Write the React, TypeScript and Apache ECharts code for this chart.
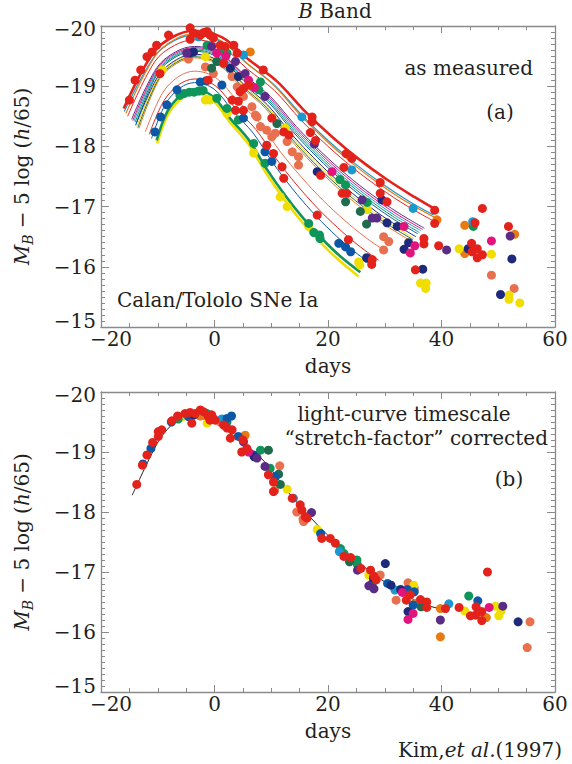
import React, { useEffect, useRef } from "react";
import * as echarts from "echarts";

// ---------- axes ----------
const X_RANGE = [-20, 60];
const Y_RANGE = [-20, -15];

// ---------- panel (a): fitted light curves [day, mag] ----------
const fitRedThick = [[-16, -18.63], [-10.76, -19.56], [-7.13, -19.83], [-3.5, -19.92], [1.34, -19.81], [6.18, -19.43], [11.02, -19.08], [15.86, -18.59], [20.7, -18.16], [25.54, -17.78], [30.38, -17.45], [35.22, -17.16], [39, -16.95]];
const fitOrange = [[-15.6, -18.55], [-10.4, -19.51], [-6.95, -19.78], [-3.5, -19.87], [1.1, -19.76], [5.7, -19.38], [10.3, -19.03], [14.9, -18.54], [19.5, -18.11], [24.1, -17.73], [28.7, -17.4], [33.3, -17.11], [39.2, -16.8]];
const fitTeal = [[-15.9, -18.58], [-10.58, -19.49], [-7.04, -19.76], [-3.5, -19.85], [1.22, -19.74], [5.94, -19.36], [10.66, -19.01], [15.38, -18.52], [20.1, -18.09], [24.82, -17.71], [29.54, -17.38], [34.26, -17.09], [38.6, -16.86]];
const fitRedThin = [[-15.3, -18.5], [-10.52, -19.41], [-7.01, -19.68], [-3.5, -19.77], [1.18, -19.66], [5.86, -19.28], [10.54, -18.93], [15.22, -18.44], [19.9, -18.01], [24.58, -17.63], [29.26, -17.3], [33.94, -17.01], [38.8, -16.75]];
const fitPurple = [[-14.6, -18.45], [-10.22, -19.3], [-6.86, -19.57], [-3.5, -19.66], [0.98, -19.55], [5.46, -19.17], [9.94, -18.82], [14.42, -18.33], [18.9, -17.9], [23.38, -17.52], [27.86, -17.19], [32.34, -16.9], [37.0, -16.64]];
const fitMagenta = [[-14.4, -18.43], [-10.16, -19.28], [-6.83, -19.55], [-3.5, -19.64], [0.94, -19.53], [5.38, -19.15], [9.82, -18.8], [14.26, -18.31], [18.7, -17.88], [23.14, -17.5], [27.58, -17.17], [32.02, -16.88], [36.7, -16.62]];
const fitTeal2 = [[-14.2, -18.42], [-10.1, -19.26], [-6.8, -19.53], [-3.5, -19.62], [0.9, -19.51], [5.3, -19.13], [9.7, -18.78], [14.1, -18.29], [18.5, -17.86], [22.9, -17.48], [27.3, -17.15], [31.7, -16.86], [36.4, -16.6]];
const fitGreen = [[-14.0, -18.4], [-10.04, -19.24], [-6.77, -19.51], [-3.5, -19.6], [0.86, -19.49], [5.22, -19.11], [9.58, -18.76], [13.94, -18.27], [18.3, -17.84], [22.66, -17.46], [27.02, -17.13], [31.38, -16.84], [36.1, -16.57]];
const fitBlue = [[-13.8, -18.38], [-9.98, -19.22], [-6.74, -19.49], [-3.5, -19.58], [0.82, -19.47], [5.14, -19.09], [9.46, -18.74], [13.78, -18.25], [18.1, -17.82], [22.42, -17.44], [26.74, -17.11], [31.06, -16.82], [35.8, -16.55]];
const fitNavy = [[-13.9, -18.35], [-9.92, -19.17], [-6.71, -19.44], [-3.5, -19.53], [0.78, -19.42], [5.06, -19.04], [9.34, -18.69], [13.62, -18.2], [17.9, -17.77], [22.18, -17.39], [26.46, -17.06], [30.74, -16.77], [35.5, -16.5]];
const fitYellow = [[-13.7, -18.33], [-9.86, -19.15], [-6.68, -19.42], [-3.5, -19.51], [0.74, -19.4], [4.98, -19.02], [9.22, -18.67], [13.46, -18.18], [17.7, -17.75], [21.94, -17.37], [26.18, -17.04], [30.42, -16.75], [35.2, -16.47]];
const fitDkGreen = [[-13.5, -18.31], [-9.8, -19.13], [-6.65, -19.4], [-3.5, -19.49], [0.7, -19.38], [4.9, -19.0], [9.1, -18.65], [13.3, -18.16], [17.5, -17.73], [21.7, -17.35], [25.9, -17.02], [30.1, -16.73], [35.0, -16.45]];
const fitOrange2 = [[-13.3, -18.3], [-9.74, -19.11], [-6.62, -19.38], [-3.5, -19.47], [0.66, -19.36], [4.82, -18.98], [8.98, -18.63], [13.14, -18.14], [17.3, -17.71], [21.46, -17.33], [25.62, -17.0], [29.78, -16.71], [34.8, -16.42]];
const fitSalmon = [[-12.2, -18.24], [-9.14, -18.89], [-6.32, -19.16], [-3.5, -19.25], [0.26, -19.14], [4.02, -18.76], [7.78, -18.41], [11.54, -17.92], [15.3, -17.49], [19.06, -17.11], [22.82, -16.78], [26.58, -16.49], [29.8, -16.28]];
const fitRedLow = [[-11.5, -18.2], [-8.9, -18.76], [-6.2, -19.03], [-3.5, -19.12], [0.1, -19.01], [3.7, -18.63], [7.3, -18.28], [10.9, -17.79], [14.5, -17.36], [18.1, -16.98], [21.7, -16.65], [25.3, -16.36], [28.9, -16.11]];
const fitBlueLow = [[-11.1, -18.13], [-8.66, -18.7], [-6.08, -18.97], [-3.5, -19.06], [-0.06, -18.95], [3.38, -18.57], [6.82, -18.22], [10.26, -17.73], [13.7, -17.3], [17.14, -16.92], [20.58, -16.59], [24.02, -16.3], [27.8, -16.03]];
const fitGreenThick = [[-10.2, -18.1], [-8.3, -18.58], [-5.9, -18.85], [-3.5, -18.94], [-0.3, -18.83], [2.9, -18.45], [6.1, -18.1], [9.3, -17.61], [12.5, -17.18], [15.7, -16.8], [18.9, -16.47], [22.1, -16.18], [25.7, -15.91]];
const fitYellowThick = [[-10.1, -18.05], [-8.24, -18.52], [-5.87, -18.79], [-3.5, -18.88], [-0.34, -18.77], [2.82, -18.39], [5.98, -18.04], [9.14, -17.55], [12.3, -17.12], [15.46, -16.74], [18.62, -16.41], [21.78, -16.12], [25.4, -15.84]];

// ---------- panel (a): measured points ----------
const aRed = [[-15.0, -18.77], [-14.0, -19.1], [-13.0, -19.27], [-11.9, -19.49], [-11.0, -19.57], [-10.2, -19.68], [-8.1, -19.85], [-4.3, -19.97], [-3.7, -19.88], [-2.5, -19.85], [-1.9, -19.89], [-1.3, -19.91], [-0.8, -19.85], [-4.3, -19.78], [-0.2, -19.8], [1.0, -19.68], [1.9, -19.66], [3.4, -19.68], [4.0, -19.55], [8.6, -19.27], [17.2, -18.49], [17.2, -18.41], [16.9, -18.23], [17.8, -18.1], [23.2, -17.88], [24.2, -17.8], [22.8, -17.65], [29.2, -17.4], [29.2, -17.22], [30.4, -17.08], [38.8, -16.94], [38.8, -16.72], [1.6, -19.38], [6.0, -19.02], [5.1, -18.96], [4.5, -18.91], [10.1, -18.47], [12.2, -18.24], [13.1, -18.19], [18.7, -17.52], [22.5, -17.22], [23.3, -17.22], [36.9, -16.47], [36.9, -16.38], [39.5, -16.35], [-9.6, -19.21], [-1.1, -19.1], [3.1, -18.77], [3.7, -18.6], [4.2, -18.75], [5.1, -18.6], [9.2, -18.02], [10.4, -17.88], [11.9, -17.66], [12.2, -17.47], [18.1, -16.86], [23.6, -16.45], [27.8, -16.12], [27.7, -16.04], [35.4, -15.95], [47.2, -16.97], [45.9, -16.73], [51.8, -16.67], [45.3, -16.39], [45.4, -16.25], [46.3, -16.3], [46.3, -16.15], [47.2, -16.2]];
const aSalmon = [[-4.6, -19.45], [-1.6, -19.32], [-0.2, -19.21], [3.1, -19.16], [4.0, -18.99], [5.1, -18.83], [6.6, -18.66], [7.5, -18.49], [8.1, -18.33], [9.2, -18.27], [10.1, -18.16], [7.2, -18.52], [10.7, -18.22], [12.8, -18.08], [13.7, -17.91], [14.8, -17.83], [14.8, -17.69], [29.8, -16.5], [30.7, -16.42], [29.8, -16.28], [48.8, -15.86], [52.8, -15.64]];
const aOrange = [[-3.7, -19.88], [-2.2, -19.87], [6.3, -19.57], [39.2, -16.78], [44.1, -16.69], [44.1, -16.22], [52.9, -16.54]];
const aYellow = [[-9.2, -19.27], [-1.6, -19.49], [-1.6, -18.77], [-0.8, -18.77], [2.2, -18.55], [4.2, -19.16], [6.9, -17.89], [11.6, -17.16], [12.8, -17.0], [12.5, -18.3], [16.6, -16.67], [25.4, -16.08], [25.6, -16.03], [26.9, -16.95], [36.3, -15.73], [37.3, -15.73], [37.2, -15.64], [43.1, -16.3], [48.8, -16.21], [51.9, -15.53], [51.9, -15.46], [53.8, -15.4]];
const aGreen = [[-1.3, -19.68], [1.3, -19.6], [2.2, -19.55], [8.1, -19.07], [7.8, -18.94], [22.1, -17.45], [23.1, -17.36], [26.9, -17.07], [45.6, -16.67], [-6.1, -18.85], [-5.3, -18.88], [-4.4, -18.9], [-3.6, -18.9], [-2.8, -18.92], [-2.0, -18.93], [0.4, -18.8], [2.2, -18.63], [4.2, -18.44], [6.9, -18.05], [8.9, -17.72], [16.6, -16.72], [17.5, -16.57], [18.5, -16.53], [18.6, -16.47]];
const aDkGreen = [[0.4, -19.41], [-0.5, -19.3], [11.0, -18.38], [23.1, -17.08], [25.7, -16.92], [26.8, -16.71]];
const aNavy = [[-4.3, -19.55], [-3.7, -19.57], [2.8, -19.3], [4.2, -19.16], [18.1, -17.58], [29.5, -17.11], [30.4, -16.73], [32.2, -16.67], [34.2, -16.4], [33.4, -16.29], [26.8, -16.15], [36.7, -15.96], [44.7, -16.3], [52.4, -16.13], [50.4, -15.54]];
const aBlue = [[-10.5, -18.24], [-9.5, -18.49], [-8.4, -18.69], [-6.6, -18.94], [-2.5, -19.07], [-1.5, -19.09], [1.3, -19.02], [5.1, -18.47], [8.9, -17.91], [10.1, -17.75], [21.9, -16.39], [23.1, -16.33], [24.0, -16.25], [26.9, -16.14]];
const aPurple = [[-4.9, -19.55], [-0.5, -19.66], [3.7, -19.41], [5.4, -19.21], [8.9, -18.83], [17.6, -18.04], [26.0, -17.11], [27.8, -16.81], [28.6, -16.81], [40.9, -16.28], [52.1, -16.51]];
const aMagenta = [[0.4, -19.55], [2.0, -19.5], [6.0, -19.1], [7.0, -18.98], [20.7, -17.58], [33.4, -16.67], [34.5, -16.23], [35.3, -16.35], [48.8, -16.43]];
const aTeal = [[-2.8, -19.82], [5.1, -19.52], [15.4, -18.49], [24.2, -17.61], [35.0, -16.97], [45.5, -16.75]];

// ---------- panel (b): stretch-corrected template and points ----------
const templateCurve = [[-14.5, -18.28], [-11, -18.98], [-9, -19.3], [-6, -19.57], [-3, -19.66], [1, -19.55], [5, -19.17], [9, -18.82], [13, -18.33], [17, -17.9], [21, -17.52], [25, -17.19], [29, -16.9], [33, -16.65], [37, -16.46], [41, -16.36]];
const bRed = [[-13.7, -18.46], [-12.7, -18.78], [-11.9, -18.95], [-10.9, -19.16], [-9.9, -19.26], [-9.9, -19.34], [-9.3, -19.37], [-7.5, -19.52], [-6.5, -19.6], [-5.2, -19.64], [-4.3, -19.66], [-4.0, -19.48], [-3.4, -19.64], [-2.5, -19.7], [-1.9, -19.67], [-1.1, -19.59], [-0.8, -19.53], [-0.5, -19.62], [0.1, -19.53], [1.6, -19.45], [2.2, -19.4], [3.1, -19.37], [2.8, -19.23], [5.0, -19.2], [4.8, -19.0], [5.7, -19.06], [9.5, -18.62], [10.4, -18.5], [10.4, -18.34], [13.7, -18.23], [15.1, -18.12], [15.4, -18.03], [16.0, -17.92], [16.3, -17.9], [18.9, -17.56], [20.4, -17.56], [21.3, -17.48], [22.8, -17.26], [24.0, -17.24], [25.8, -17.06], [27.5, -17.03], [28.1, -16.93], [28.5, -16.87], [34.5, -16.62], [33.8, -16.53], [36.3, -16.54], [37.4, -16.5], [37.4, -16.41], [40.7, -16.39], [43.1, -16.41], [46.1, -16.42], [47.1, -16.34], [46.0, -16.28], [45.1, -16.27], [47.1, -16.19], [48.1, -17.0]];
const bSalmon = [[-2.5, -19.6], [1.0, -19.5], [11.5, -18.77], [10.6, -18.36], [14.5, -18.0], [15.7, -17.84], [15.6, -17.88], [29.2, -16.95], [34.1, -16.82], [35.2, -16.73], [32.0, -16.53], [55.6, -16.17], [55.1, -15.74]];
const bOrange = [[-2.8, -19.62], [-1.5, -19.6], [5.4, -19.28], [35.4, -16.48], [39.8, -16.39], [39.8, -15.92], [47.9, -16.24]];
const bYellow = [[-5.8, -19.58], [-1.3, -19.48], [12.8, -18.38], [18.1, -17.71], [27.2, -16.95], [35.1, -16.78], [44.1, -16.35], [49.5, -16.43], [50.5, -16.35], [50.1, -16.27]];
const bGreen = [[-6.4, -19.55], [-4.0, -19.6], [-1.3, -19.64], [2.2, -19.5], [8.1, -19.03], [9.8, -18.73], [22.2, -17.39], [22.8, -17.31], [25.1, -17.2], [25.2, -17.12], [44.8, -16.6]];
const bDkGreen = [[9.5, -19.03], [11.3, -18.63], [11.6, -18.46], [23.8, -17.17], [27.8, -16.81], [36.4, -16.42]];
const bBlue = [[-12.6, -18.8], [-11.2, -19.06], [-7.6, -19.5], [-4.6, -19.59], [2.2, -19.56], [3.0, -19.6], [4.2, -19.26], [6.9, -18.95], [10.7, -18.59], [18.7, -17.64], [30.5, -16.81], [34.0, -16.71], [35.2, -16.67], [35.0, -16.45], [46.4, -16.52]];
const bNavy = [[-3.6, -19.62], [7.0, -18.92], [28.0, -16.9], [30.1, -17.14], [31.1, -16.78], [32.8, -16.71], [34.1, -16.34], [53.5, -16.17]];
const bPurple = [[-0.3, -19.57], [5.1, -19.17], [7.5, -18.9], [8.9, -18.76], [17.1, -17.99], [25.2, -17.03], [27.2, -16.77], [28.1, -16.72], [39.8, -16.2], [50.8, -16.43]];
const bMagenta = [[6.0, -19.0], [33.1, -16.66], [35.0, -16.31], [34.1, -16.21], [48.4, -16.41]];
const bTeal = [[1.3, -19.55], [13.9, -18.23], [22.0, -17.34], [31.8, -16.7], [41.3, -16.47]];

// ---------- styles ----------
const COL = {
  red: "#e3221c", salmon: "#e9704e", orange: "#e97a12", yellow: "#f0de00",
  green: "#0f955a", dkgreen: "#1e6b4e", blue: "#0c58a7", navy: "#1d2a7b",
  purple: "#5b2c86", magenta: "#e2137d", teal: "#1a98d0",
};
const FONT = "DejaVu Serif";
const TXT = "#231f20";
const AXC = "#8a8a8a";

const fitsA = [
  { d: fitOrange2, c: COL.orange, w: 1 },
  { d: fitDkGreen, c: COL.dkgreen, w: 1 },
  { d: fitYellow, c: COL.yellow, w: 1 },
  { d: fitNavy, c: COL.navy, w: 1 },
  { d: fitBlue, c: COL.blue, w: 1 },
  { d: fitGreen, c: COL.green, w: 1 },
  { d: fitTeal2, c: COL.teal, w: 1 },
  { d: fitMagenta, c: COL.magenta, w: 1 },
  { d: fitPurple, c: COL.purple, w: 1 },
  { d: fitRedThin, c: COL.red, w: 1 },
  { d: fitTeal, c: COL.teal, w: 1.2 },
  { d: fitOrange, c: COL.orange, w: 1.2 },
  { d: fitSalmon, c: COL.salmon, w: 1 },
  { d: fitRedLow, c: COL.red, w: 1 },
  { d: fitBlueLow, c: COL.blue, w: 1 },
  { d: fitYellowThick, c: COL.yellow, w: 2.6 },
  { d: fitGreenThick, c: COL.green, w: 2.6 },
  { d: fitRedThick, c: COL.red, w: 2.6 },
];
const ptsA = [
  { d: aSalmon, c: COL.salmon }, { d: aOrange, c: COL.orange }, { d: aYellow, c: COL.yellow },
  { d: aGreen, c: COL.green }, { d: aDkGreen, c: COL.dkgreen }, { d: aTeal, c: COL.teal },
  { d: aBlue, c: COL.blue }, { d: aNavy, c: COL.navy }, { d: aPurple, c: COL.purple },
  { d: aMagenta, c: COL.magenta }, { d: aRed, c: COL.red },
];
const ptsB = [
  { d: bSalmon, c: COL.salmon }, { d: bOrange, c: COL.orange }, { d: bYellow, c: COL.yellow },
  { d: bGreen, c: COL.green }, { d: bDkGreen, c: COL.dkgreen }, { d: bTeal, c: COL.teal },
  { d: bBlue, c: COL.blue }, { d: bNavy, c: COL.navy }, { d: bPurple, c: COL.purple },
  { d: bMagenta, c: COL.magenta }, { d: bRed, c: COL.red },
];

const minus = (v: number) => (v < 0 ? "\u2212" + Math.abs(v) : String(v));
const lbl = { fontFamily: FONT, fontSize: 20, color: TXT };

function xAx(grid: number, pos: string, labels: boolean) {
  return {
    type: "value", gridIndex: grid, position: pos, min: X_RANGE[0], max: X_RANGE[1], interval: 20,
    axisLine: { show: true, onZero: false, lineStyle: { color: AXC, width: 1.3 } },
    axisTick: { show: true, inside: true, length: 7, lineStyle: { color: AXC, width: 1 } },
    minorTick: { show: true, splitNumber: 4, length: 4, lineStyle: { color: AXC, width: 1 } },
    splitLine: { show: false }, minorSplitLine: { show: false },
    axisLabel: labels
      ? {
          show: true, margin: 3, ...lbl, lineHeight: 18,
          formatter: (v: number) => (v === X_RANGE[0] ? "{f|" + minus(v) + "}" : minus(v)),
          rich: { f: { ...lbl, lineHeight: 18, padding: [0, 0, 0, 20] } },
        }
      : { show: false },
    name: labels ? "days" : "", nameLocation: "middle", nameGap: 30,
    nameTextStyle: { ...lbl, lineHeight: 18 },
  };
}

function yAx(grid: number, pos: string, labels: boolean) {
  return {
    type: "value", gridIndex: grid, position: pos, min: Y_RANGE[0], max: Y_RANGE[1], interval: 1, inverse: true,
    axisLine: { show: true, onZero: false, lineStyle: { color: AXC, width: 1.3 } },
    axisTick: { show: true, inside: true, length: 8, lineStyle: { color: AXC, width: 1 } },
    minorTick: { show: true, splitNumber: 10, length: 4, lineStyle: { color: AXC, width: 1 } },
    splitLine: { show: false }, minorSplitLine: { show: false },
    axisLabel: labels
      ? {
          show: true, margin: 5, ...lbl,
          formatter: (v: number) =>
            v === Y_RANGE[1] ? "{lo|" + minus(v) + "}" : v === Y_RANGE[0] ? "{hi|" + minus(v) + "}" : minus(v),
          rich: { lo: { ...lbl, padding: [0, 0, 12, 0] }, hi: { ...lbl, padding: [6, 0, 0, 0] } },
        }
      : { show: false },
    name: labels ? "{i|M}{s|B}{n| \u2212 5 log (}{i|h}{n|/65)}" : "",
    nameLocation: "middle", nameRotate: 90, nameGap: 66,
    nameTextStyle: {
      ...lbl,
      rich: {
        i: { ...lbl, fontStyle: "italic", lineHeight: 26 },
        n: { ...lbl, lineHeight: 26 },
        s: { fontFamily: FONT, fontSize: 14, color: TXT, fontStyle: "italic", lineHeight: 14, verticalAlign: "bottom" },
      },
    },
  };
}

function txt(x: number, y: number, text: string, align: string, rich?: any) {
  return {
    type: "text", x, y, z: 10,
    style: {
      text, fontFamily: FONT, fontSize: 20, fill: TXT,
      align, textAlign: align, verticalAlign: "middle", textVerticalAlign: "middle",
      rich,
    },
  };
}

export default function App() {
  const ref = useRef<HTMLDivElement>(null);
  useEffect(() => {
    document.body.style.margin = "0";
    if (!ref.current) return;
    const chart = echarts.init(ref.current, null, { renderer: "svg" });
    const series: any[] = [];
    fitsA.forEach((f) =>
      series.push({
        type: "line", xAxisIndex: 0, yAxisIndex: 0, data: f.d, smooth: 0.35, symbol: "none",
        lineStyle: { color: f.c, width: f.w }, z: 2, silent: true,
      })
    );
    ptsA.forEach((p) =>
      series.push({
        type: "scatter", xAxisIndex: 0, yAxisIndex: 0, data: p.d, symbolSize: 9,
        itemStyle: { color: p.c, opacity: 1 }, z: 3, silent: true,
      })
    );
    series.push({
      type: "line", xAxisIndex: 2, yAxisIndex: 2, data: templateCurve, smooth: 0.35, symbol: "none",
      lineStyle: { color: "#222", width: 1 }, z: 2, silent: true,
    });
    ptsB.forEach((p) =>
      series.push({
        type: "scatter", xAxisIndex: 2, yAxisIndex: 2, data: p.d, symbolSize: 9,
        itemStyle: { color: p.c, opacity: 1 }, z: 3, silent: true,
      })
    );
    const ital = { i: { fontFamily: FONT, fontSize: 20, fill: TXT, fontStyle: "italic" } };
    chart.setOption({
      animation: false,
      backgroundColor: "#ffffff",
      grid: [
        { left: 101, top: 26, width: 454, height: 301 },
        { left: 101, top: 392, width: 454, height: 300 },
      ],
      xAxis: [xAx(0, "bottom", true), xAx(0, "top", false), xAx(1, "bottom", true), xAx(1, "top", false)],
      yAxis: [yAx(0, "left", true), yAx(0, "right", false), yAx(1, "left", true), yAx(1, "right", false)],
      series,
      graphic: [
        txt(335, 11, "{i|B} Band", "center", ital),
        txt(533, 68, "as measured", "right"),
        txt(500, 112, "(a)", "center"),
        txt(117, 300, "Calan/Tololo SNe Ia", "left"),
        txt(404, 414, "light-curve timescale", "center"),
        txt(548, 438, "\u201Cstretch-factor\u201D corrected", "right"),
        txt(509, 479, "(b)", "center"),
        txt(398, 750, "Kim,{i|et al.}(1997)", "left", ital),
      ],
    });
    return () => chart.dispose();
  }, []);
  return <div ref={ref} style={{ width: 572, height: 764 }} />;
}
